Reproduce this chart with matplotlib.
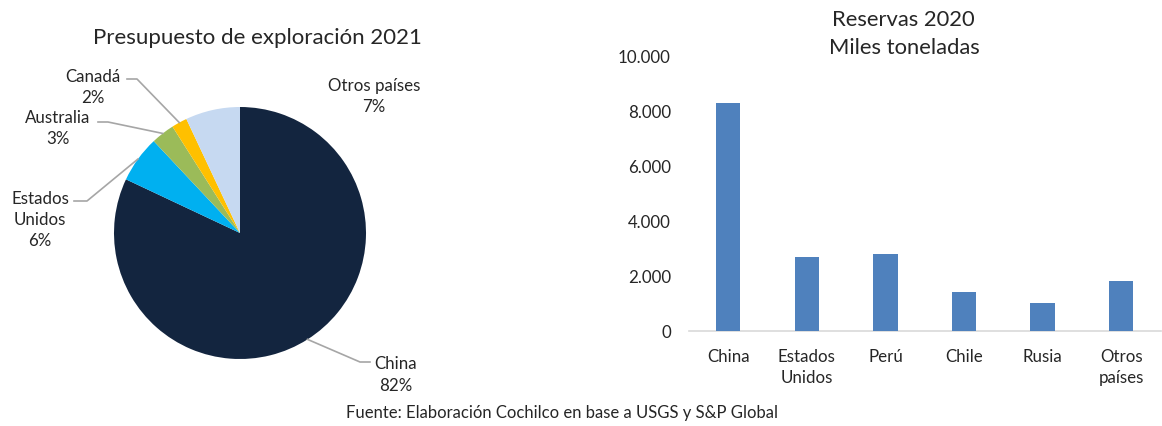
import numpy as np
import matplotlib
matplotlib.use("Agg")
import matplotlib.pyplot as plt

plt.rcParams["font.family"] = ["Lato", "DejaVu Sans"]

# Presupuesto de exploración 2021 (participación %)
pie_labels = ["China", "Estados\nUnidos", "Australia", "Canadá", "Otros países"]
pie_values = [82, 6, 3, 2, 7]
pie_colors = ["#13253f", "#00b0f0", "#9bbb59", "#ffc000", "#c6d9f1"]

# Reservas 2020 (miles de toneladas)
bar_labels = ["China", "Estados\nUnidos", "Perú", "Chile", "Rusia", "Otros\npaíses"]
bar_values = [8300, 2700, 2800, 1400, 1000, 1800]
bar_color = "#4f81bd"

TXT = "#262626"
W, H = 1162, 427
fig = plt.figure(figsize=(W / 100, H / 100), dpi=100)

# ---------------- Torta ----------------
cx, cy, r = 240, 234, 126
lim = 1.3
side = 2 * lim * r
ax1 = fig.add_axes([(cx - side / 2) / W, 1 - (cy + side / 2) / H, side / W, side / H])
wedges, _ = ax1.pie(pie_values, colors=pie_colors, startangle=90, counterclock=False,
                    radius=1, wedgeprops=dict(linewidth=0))
ax1.set_xlim(-lim, lim)
ax1.set_ylim(-lim, lim)
ax1.set_aspect("equal")
ax1.axis("off")

def px(x, y):
    # pixel de la figura -> coordenadas de datos de la torta
    return (x - cx) / r, (cy - y) / r

# posición del texto y codo de la línea guía (None = sin línea)
label_pos = [
    (px(396, 375), px(360, 363), px(370, 363)),
    (px(40, 220), px(87, 202), px(74, 202)),
    (px(58, 128.5), px(108, 123), px(98, 123)),
    (px(93, 87.5), px(137, 80), px(127, 80)),
    (px(374, 96.5), None, None),
]

for w, lab, val, (tp, elbow, end) in zip(wedges, pie_labels, pie_values, label_pos):
    ax1.text(tp[0], tp[1], f"{lab}\n{val}%", ha="center", va="center",
             fontsize=12.2, color=TXT, linespacing=1.42, clip_on=False)
    if elbow is not None:
        ang = np.deg2rad((w.theta1 + w.theta2) / 2)
        ex, ey = np.cos(ang), np.sin(ang)
        ax1.plot([ex, elbow[0], end[0]], [ey, elbow[1], end[1]],
                 color="#a6a6a6", lw=1.2, clip_on=False)

fig.text(257.7 / W, 1 - 38 / H, "Presupuesto de exploración 2021",
         ha="center", va="center", fontsize=16, color=TXT)

# ---------------- Barras ----------------
left, right, top, bottom = 689, 1160.5, 56.7, 332
ax2 = fig.add_axes([left / W, 1 - bottom / H, (right - left) / W, (bottom - top) / H])
x = np.arange(len(bar_values))
ax2.bar(x, bar_values, width=0.31, color=bar_color, zorder=3)
ax2.set_xlim(-0.5, len(bar_values) - 0.5)
ax2.set_ylim(0, 10000)
ax2.set_yticks(range(0, 10001, 2000))
ax2.set_yticklabels([f"{v:,}".replace(",", ".") for v in range(0, 10001, 2000)])
ax2.set_xticks(x)
ax2.set_xticklabels(bar_labels, linespacing=1.4)
ax2.tick_params(axis="both", length=0, labelsize=12.2, colors=TXT)
ax2.tick_params(axis="y", pad=13)
ax2.tick_params(axis="x", pad=12)
for s in ["top", "right", "left"]:
    ax2.spines[s].set_visible(False)
ax2.spines["bottom"].set_color("#d9d9d9")
ax2.spines["bottom"].set_linewidth(1.2)

fig.text(903 / W, 1 - 19.5 / H, "Reservas 2020", ha="center", va="center",
         fontsize=15.8, color=TXT)
fig.text(904 / W, 1 - 48 / H, "Miles toneladas", ha="center", va="center",
         fontsize=15.8, color=TXT)

fig.text(562 / W, 1 - 413 / H, "Fuente: Elaboración Cochilco en base a USGS y S&P Global",
         ha="center", va="center", fontsize=12, color=TXT)

fig.savefig("out.png", dpi=100)
